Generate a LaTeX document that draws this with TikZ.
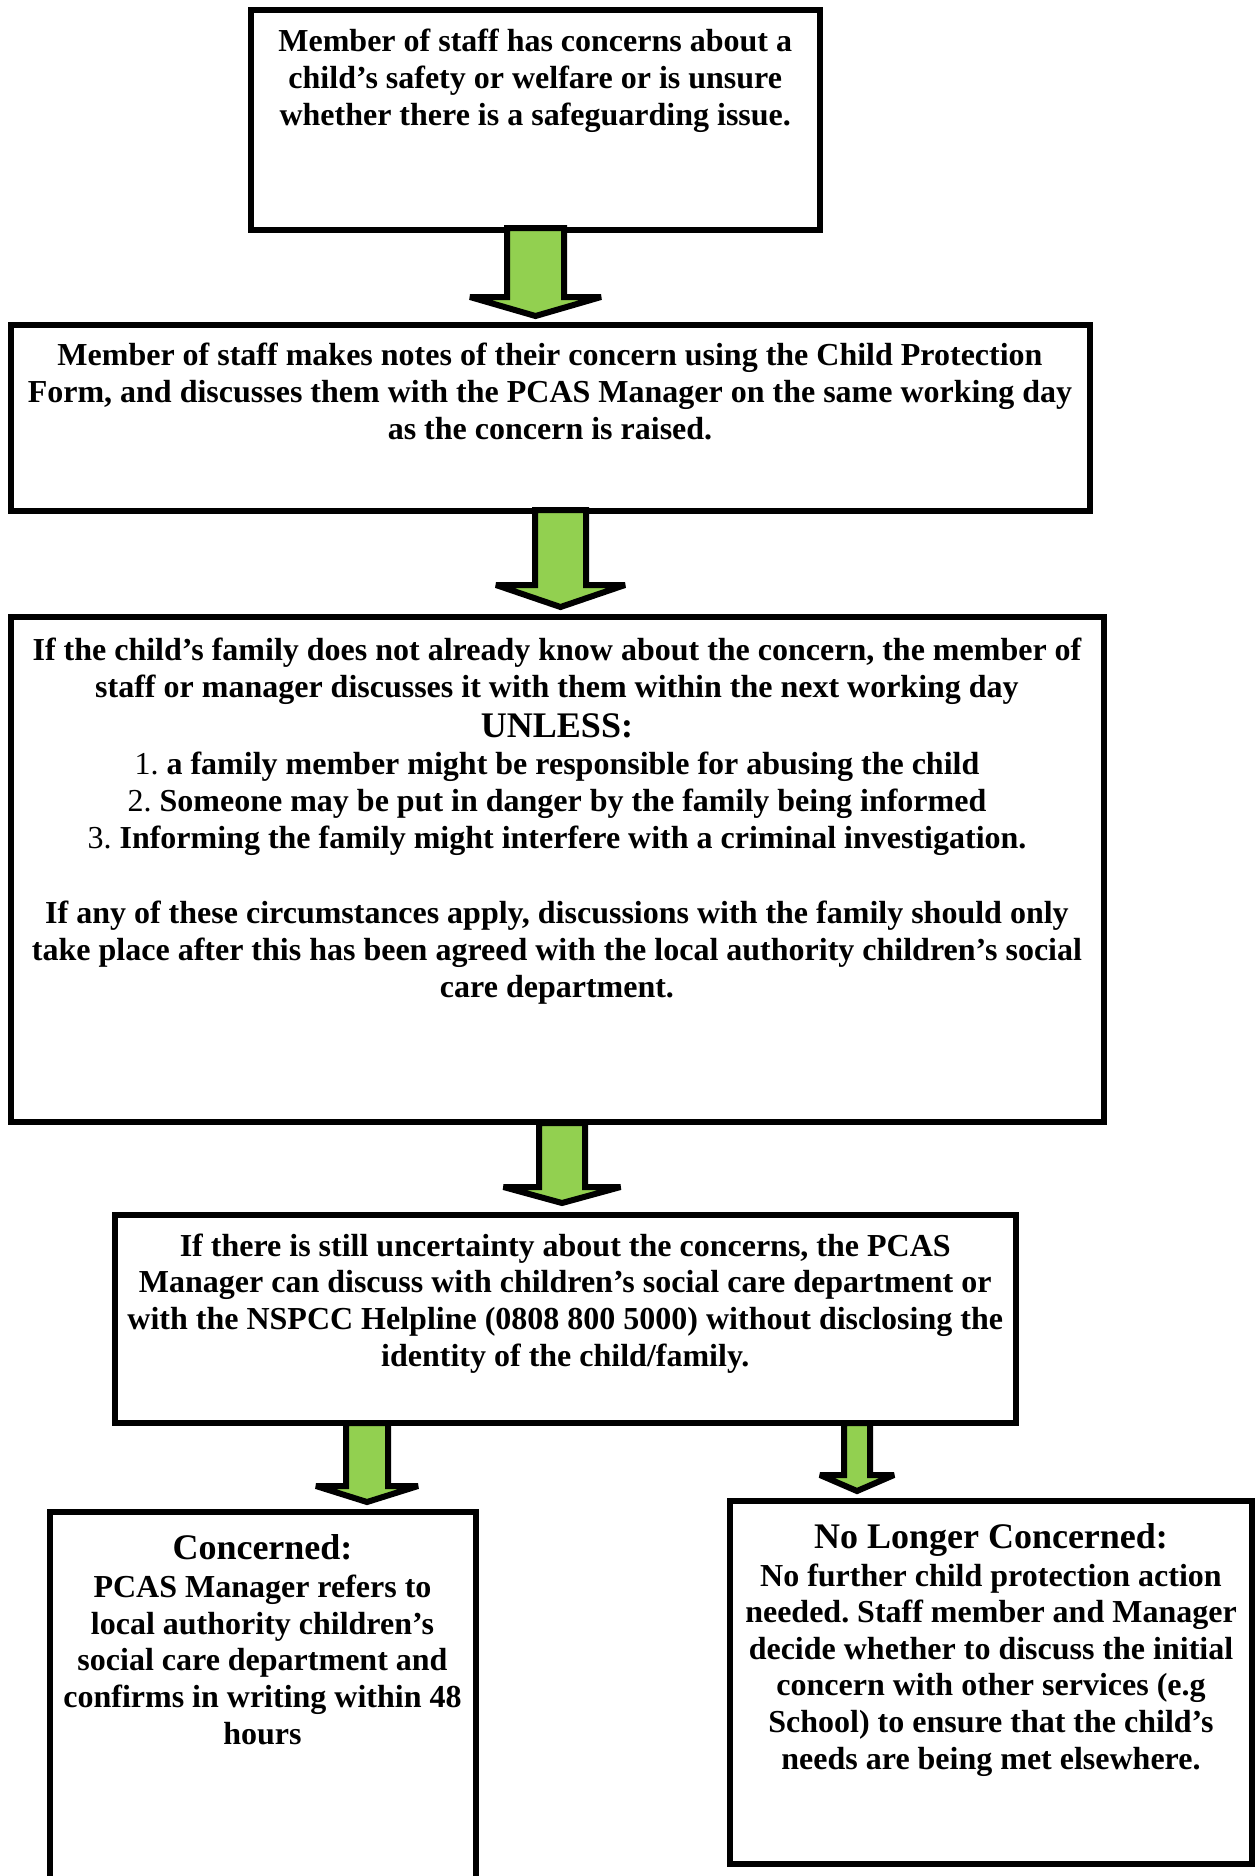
\documentclass[tikz,border=0pt]{standalone}
\usepackage{fontspec}
\setmainfont{Liberation Serif}
\usetikzlibrary{calc}
\frenchspacing
\definecolor{arrowgreen}{HTML}{92D050}
\newcommand{\blockarrow}[5]{%
  \draw[garrow] let \p1=(#1), \p2=(#2) in
   (\x2-#3,\y1) -- (\x2-#3,\y2+#5) -- (\x2-#4,\y2+#5) -- (\x2,\y2)
   -- (\x2+#4,\y2+#5) -- (\x2+#3,\y2+#5) -- (\x2+#3,\y1) -- cycle;}
\begin{document}
\begin{tikzpicture}[x=0.5pt,y=-0.5pt,
  box/.style={draw=black, line width=3pt, inner sep=0pt},
  garrow/.style={fill=arrowgreen, draw=black, line width=3pt, line join=miter, miter limit=2},
  txt/.style={font=\fontsize{16}{18.3}\selectfont\bfseries\frenchspacing, align=center, anchor=base, inner sep=0pt},
  bigtxt/.style={font=\fontsize{18}{20.7}\selectfont\bfseries, align=center, anchor=base, inner sep=0pt}]
\useasboundingbox[fill=white] (0,0) rectangle (1255,1876);

% boxes
\node[box, minimum width=284.75pt, minimum height=110pt] (b1) at (535.25,120) {};
\node[box, minimum width=539.5pt, minimum height=93pt] (b2) at (550,418) {};
\node[box, minimum width=546.5pt, minimum height=252.5pt] (b3) at (557,869.5) {};
\node[box, minimum width=450.25pt, minimum height=104.25pt] (b4) at (565.25,1318.75) {};
\node[box, minimum width=213pt, minimum height=194pt] (bl) at (262.5,1706) {};
\node[box, minimum width=261pt, minimum height=181.25pt] (br) at (991,1682.25) {};

% texts (anchor base = baseline of the last line)
\node[txt] (t1) at (535.25,125) {Member of staff has concerns about a\\child’s safety or welfare or is unsure\\whether there is a safeguarding issue.};
\node[txt] (t2) at (550,439) {Member of staff makes notes of their concern using the Child Protection\\Form, and discusses them with the PCAS Manager on the same working day\\as the concern is raised.};
\node[txt] (t3a) at (557,697) {If the child’s family does not already know about the concern, the member of\\staff or manager discusses it with them within the next working day};
\node[bigtxt] (t3u) at (557,737) {UNLESS:};
\node[txt] (t3l) at (557,848) {{\mdseries 1.} a family member might be responsible for abusing the child\\{\mdseries 2.} Someone may be put in danger by the family being informed\\{\mdseries 3.} Informing the family might interfere with a criminal investigation.};
\node[txt] (t3b) at (557,997) {If any of these circumstances apply, discussions with the family should only\\take place after this has been agreed with the local authority children’s social\\care department.};
\node[txt] (t4) at (565.25,1366) {If there is still uncertainty about the concerns, the PCAS\\Manager can discuss with children’s social care department or\\with the NSPCC Helpline (0808 800 5000) without disclosing the\\identity of the child/family.};
\node[bigtxt] (tlh) at (262.5,1559) {Concerned:};
\node[txt] (tl) at (262.5,1744) {PCAS Manager refers to\\local authority children’s\\social care department and\\confirms in writing within 48\\hours};
\node[bigtxt] (trh) at (991,1548) {No Longer Concerned:};
\node[txt] (tr) at (991,1769) {No further child protection action\\needed. Staff member and Manager\\decide whether to discuss the initial\\concern with other services (e.g\\School) to ensure that the child’s\\needs are being met elsewhere.};

% arrows
\blockarrow{$(b1.south)+(0,-5)$}{$(b2.north)+(-14.5,-6)$}{14.25pt}{32.75pt}{9.5pt}
\blockarrow{$(b2.south)+(0,-4)$}{$(b3.north)+(3.5,-7)$}{12.75pt}{32.25pt}{11pt}
\blockarrow{$(b3.south)+(0,-2)$}{$(b4.north)+(-3.25,-8.5)$}{11.5pt}{29.25pt}{8pt}
\blockarrow{$(b4.south)+(0,-3)$}{$(bl.north)+(104.5,-7)$}{10.5pt}{25.5pt}{8pt}
\blockarrow{$(b4.south)+(0,-3)$}{$(br.north)+(-134,-7)$}{6.5pt}{18.5pt}{8pt}
\end{tikzpicture}
\end{document}
